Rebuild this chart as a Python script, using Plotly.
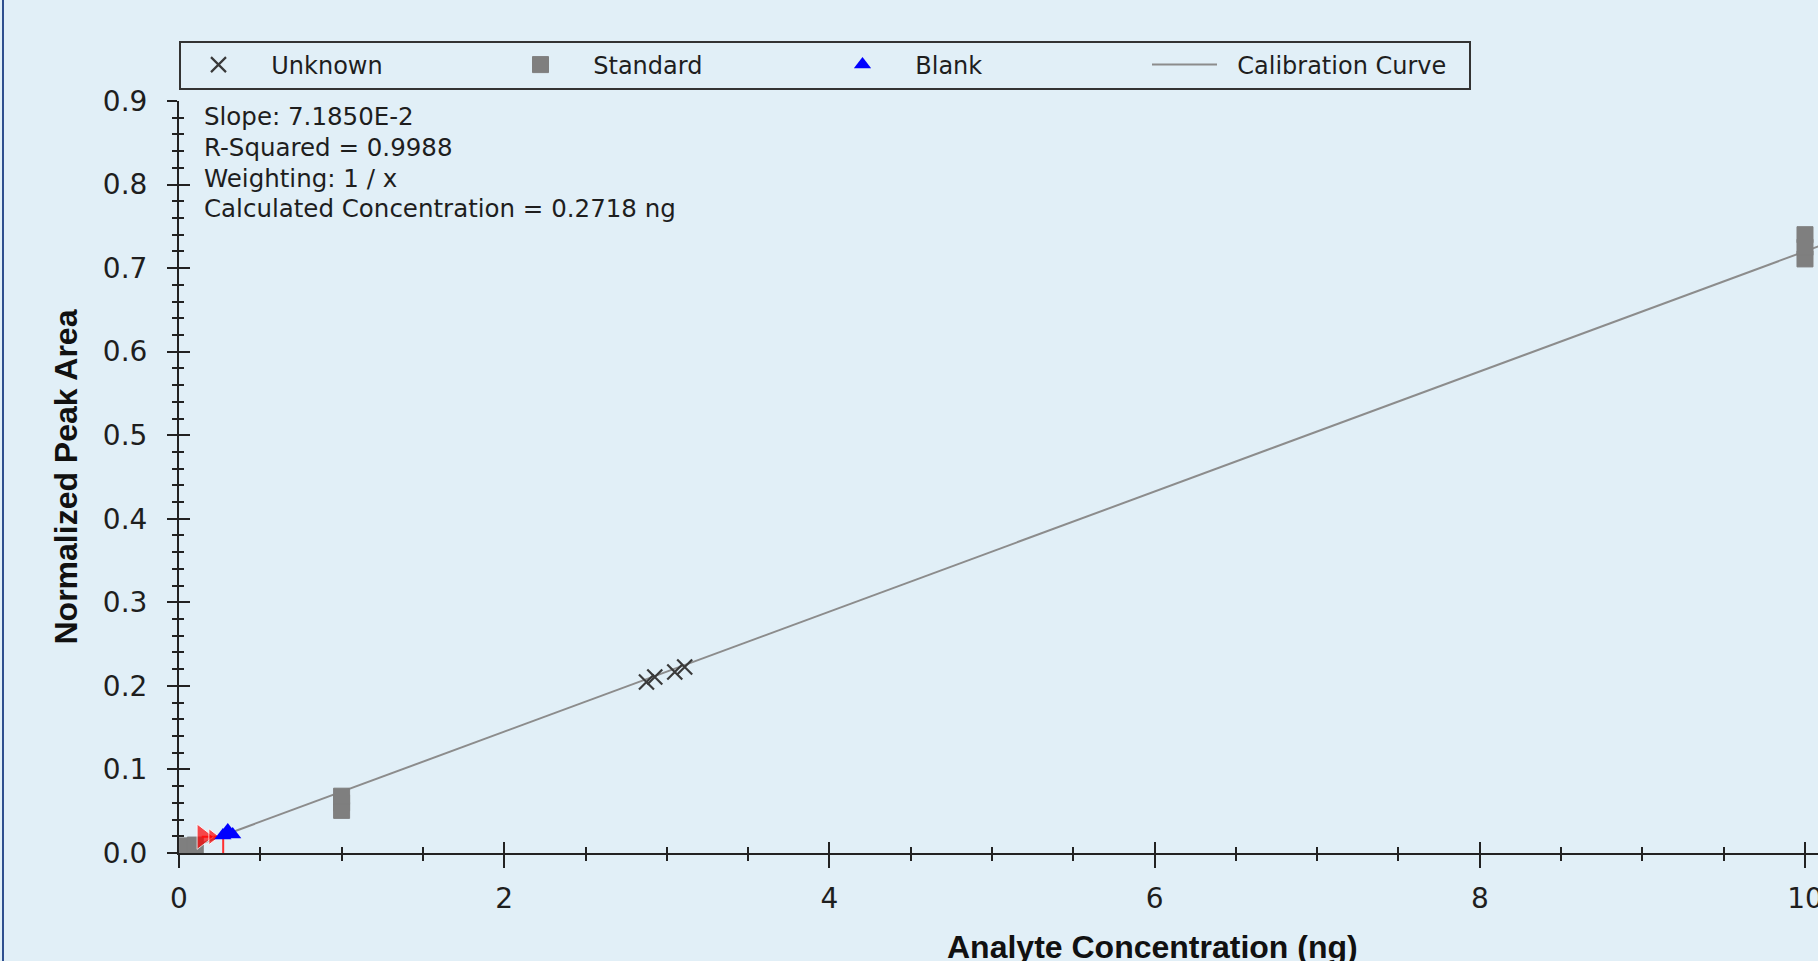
import plotly.graph_objects as go

# ---- data ----
unknown_x = [2.875, 2.926, 3.049, 3.110]
unknown_y = [0.2046, 0.2106, 0.2166, 0.2226]

standard_x = [0.05, 0.10, 1.0, 1.0, 1.0, 10.0, 10.0, 10.0]
standard_y = [0.0085, 0.0095, 0.051, 0.060, 0.068, 0.711, 0.725, 0.740]

blank_x = [0.27, 0.30, 0.33]
blank_y = [0.021, 0.027, 0.022]

cal_x = [0.0, 10.5]
cal_y = [0.0015, 0.756]

calc_x = [0.14, 0.2718, 0.2718]
calc_y = [0.0195, 0.0195, 0.0]
arrow_x = [0.145, 0.205]
arrow_y = [0.0195, 0.0195]
arrow_size = [22, 14]

info_lines = [
    "Slope: 7.1850E-2",
    "R-Squared = 0.9988",
    "Weighting: 1 / x",
    "Calculated Concentration = 0.2718 ng",
]

x_ticks = [0, 2, 4, 6, 8, 10]
y_ticks = [0.0, 0.1, 0.2, 0.3, 0.4, 0.5, 0.6, 0.7, 0.8, 0.9]

# ---- styling ----
BG = "#E1EFF7"
AX = "#222222"
TXT = "#1E1E1E"
REG = "DejaVu Sans"
BOLD = "Liberation Sans, Arial"
XR = [0, 10.08]
YR = [0, 0.9]

fig = go.Figure()

fig.add_trace(go.Scatter(
    x=cal_x, y=cal_y, mode="lines", name="\u00a0\u00a0Calibration Curve",
    line=dict(color="#8C8C8C", width=2), legendrank=4, hoverinfo="skip"))

fig.add_trace(go.Scatter(
    x=standard_x, y=standard_y, mode="markers", name="\u00a0\u00a0Standard",
    marker=dict(symbol="square", size=16, color="#7F7F7F",
                line=dict(color="#7F7F7F", width=1)), legendrank=2))

fig.add_trace(go.Scatter(
    x=calc_x, y=calc_y, mode="lines", showlegend=False,
    line=dict(color="#FF3030", width=2)))
fig.add_trace(go.Scatter(
    x=arrow_x, y=arrow_y, mode="markers", showlegend=False,
    marker=dict(symbol="triangle-right", size=arrow_size, color="#FF0000")))

fig.add_trace(go.Scatter(
    x=blank_x, y=blank_y, mode="markers", name="\u00a0\u00a0Blank",
    marker=dict(symbol="triangle-up", size=15, color="#0000FF"), legendrank=3))

fig.add_trace(go.Scatter(
    x=unknown_x, y=unknown_y, mode="markers", name="\u00a0\u00a0Unknown",
    marker=dict(symbol="x-thin", size=15, color="#3A3A3A",
                line=dict(color="#3A3A3A", width=2.2)), legendrank=1))

# empty trace so the overlay axes (crossing tick halves) get drawn
fig.add_trace(go.Scatter(x=[None], y=[None], xaxis="x2", yaxis="y2",
                         mode="lines", showlegend=False, hoverinfo="skip"))

for i, t in enumerate(info_lines):
    py = 116 + i * 31  # pixel centre of each line
    fig.add_annotation(
        text=t, xref="paper", yref="paper",
        x=(202 - 179) / 1639, y=(853 - py) / 752,
        xanchor="left", yanchor="middle", showarrow=False,
        font=dict(family=REG, size=24.5, color=TXT))

fig.add_annotation(
    text="<b>Normalized Peak Area</b>", xref="paper", yref="paper",
    x=(65.5 - 179) / 1639, y=0.5, textangle=-90,
    xanchor="center", yanchor="middle", showarrow=False,
    font=dict(family=BOLD, size=32, color="#111111"))

fig.add_annotation(
    text="<b>Analyte Concentration (ng)</b>", xref="paper", yref="paper",
    x=(1152.5 - 179) / 1639, y=(853 - 927) / 752,
    xanchor="center", yanchor="top", showarrow=False,
    font=dict(family=BOLD, size=32, color="#111111"))

# left window border
fig.add_shape(type="line", xref="paper", yref="paper",
              x0=(3 - 179) / 1639, x1=(3 - 179) / 1639, y0=-0.3, y1=1.3,
              line=dict(color="#2F4F8F", width=2))

common = dict(showgrid=False, zeroline=False, tickwidth=2, tickcolor=AX)

fig.update_layout(
    width=1818, height=961,
    margin=dict(l=179, r=0, t=101, b=108, autoexpand=False),
    paper_bgcolor=BG, plot_bgcolor=BG,
    font=dict(family=REG, color=TXT),
    xaxis=dict(range=XR, tickvals=x_ticks, ticktext=[str(v) for v in x_ticks],
               ticks="outside", ticklen=13, showline=True, linecolor=AX, linewidth=2,
               ticklabeloverflow="allow", ticklabelstandoff=6,
               tickfont=dict(family=REG, size=28, color=TXT),
               minor=dict(ticks="outside", ticklen=6, dtick=0.5, tick0=0,
                          tickwidth=2, tickcolor=AX),
               automargin=False, **common),
    xaxis2=dict(range=XR, overlaying="x", anchor="y", side="bottom",
                tickvals=x_ticks, ticks="inside", ticklen=11, showticklabels=False,
                showline=False,
                minor=dict(ticks="inside", ticklen=6, dtick=0.5, tick0=0,
                           tickwidth=2, tickcolor=AX),
                automargin=False, **common),
    yaxis=dict(range=YR, tickvals=y_ticks, ticktext=[f"{v:.1f}" for v in y_ticks],
               ticks="outside", ticklen=10, showline=True, linecolor=AX, linewidth=2,
               ticklabelstandoff=14,
               tickfont=dict(family=REG, size=28, color=TXT),
               minor=dict(ticks="outside", ticklen=5, dtick=0.02, tick0=0,
                          tickwidth=2, tickcolor=AX),
               automargin=False, **common),
    yaxis2=dict(range=YR, overlaying="y", anchor="x", side="left",
                tickvals=y_ticks, ticks="inside", ticklen=11, showticklabels=False,
                showline=False,
                minor=dict(ticks="inside", ticklen=5, dtick=0.02, tick0=0,
                           tickwidth=2, tickcolor=AX),
                automargin=False, **common),
    showlegend=True,
    legend=dict(orientation="h", x=0, xanchor="left", y=1 + (101 - 40.5) / 752,
                yanchor="top", bgcolor=BG, bordercolor="#333333", borderwidth=2,
                itemwidth=65, entrywidth=242, entrywidthmode="pixels",
                font=dict(family=REG, size=24, color=TXT), traceorder="normal"),
)

fig.write_html("out.html")
